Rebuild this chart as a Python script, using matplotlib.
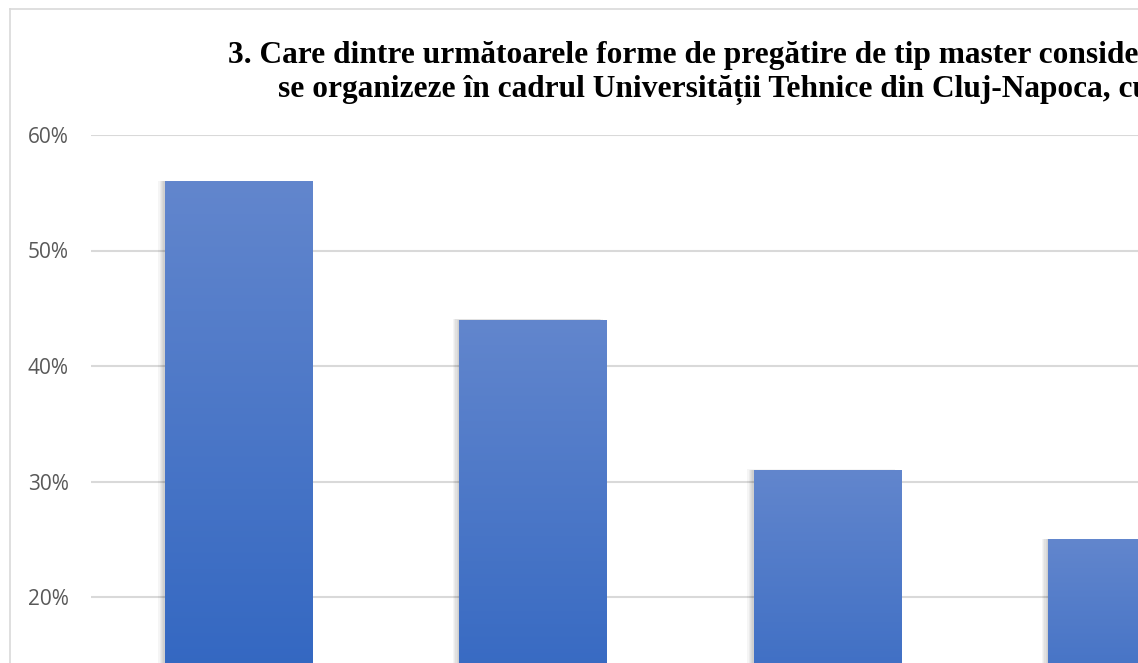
import numpy as np
import matplotlib
matplotlib.use("Agg")
import matplotlib.pyplot as plt
import matplotlib.transforms as mtransforms
from matplotlib.colors import LinearSegmentedColormap
from matplotlib.lines import Line2D
from matplotlib.ticker import PercentFormatter

# data (percent of respondents)
categories = ["Varianta 1", "Varianta 2", "Varianta 3", "Varianta 4"]
values = [0.56, 0.44, 0.31, 0.25]
yticks = [0.0, 0.1, 0.2, 0.3, 0.4, 0.5, 0.6]
title_lines = [
    "3. Care dintre următoarele forme de pregătire de tip master considerați că ar fi util să",
    "se organizeze în cadrul Universității Tehnice din Cluj-Napoca, cu durata de studii?",
]

W, H = 1138, 663
fig = plt.figure(figsize=(W / 100, H / 100), dpi=100)

# plot area is larger than the visible picture (the reference is a crop)
left, right = 91, 91 + 4 * 294.5
top, bottom = 135, 828
ax = fig.add_axes([left / W, 1 - bottom / H, (right - left) / W, (bottom - top) / H])

ax.set_xlim(-0.5, len(categories) - 0.5)
ax.set_ylim(0, 0.6)
ax.set_yticks(yticks)
ax.yaxis.set_major_formatter(PercentFormatter(1.0, decimals=0))
ax.tick_params(axis="y", length=0, pad=16, labelsize=15, labelcolor="#595959")
# category labels sit below the cropped area of the reference
ax.set_xticks(range(len(categories)))
ax.tick_params(axis="x", length=0, labelbottom=False)
for lab in ax.get_yticklabels():
    lab.set_fontfamily("Open Sans")
for s in ax.spines.values():
    s.set_visible(False)
ax.grid(axis="y", color="#d9d9d9", linewidth=1.5)
ax.set_axisbelow(True)

x = np.arange(len(categories))
bar_w = 0.5

# soft shadow to the left of each bar
for k in range(1, 6):
    off = mtransforms.offset_copy(ax.transData, fig=fig, x=-k * 0.9, y=k * 0.08, units="points")
    ax.bar(x, values, width=bar_w, color="#000000", alpha=0.04, transform=off,
           linewidth=0, zorder=2)

bars = ax.bar(x, values, width=bar_w, color="#4a77c8", linewidth=0, zorder=3)

# vertical gradient inside each bar
cmap = LinearSegmentedColormap.from_list("bar", ["#255ebe", "#6286cd"])
grad = np.linspace(0, 1, 256).reshape(-1, 1)
for b in bars:
    x0, y0 = b.get_x(), b.get_y()
    im = ax.imshow(grad, cmap=cmap, origin="lower", aspect="auto",
                   extent=[x0, x0 + b.get_width(), y0, y0 + b.get_height()], zorder=4)
    im.set_clip_path(b)
ax.set_xlim(-0.5, len(categories) - 0.5)
ax.set_ylim(0, 0.6)

# title, left part visible only
fig.text(228 / W, 1 - 63 / H, title_lines[0], ha="left", va="baseline",
         fontsize=22.6, fontweight="bold", family="Liberation Serif", color="#000000")
fig.text(278 / W, 1 - 97 / H, title_lines[1], ha="left", va="baseline",
         fontsize=22.6, fontweight="bold", family="Liberation Serif", color="#000000")

# chart border
fig.add_artist(Line2D([10 / W, 10 / W], [0, 1 - 8.5 / H], transform=fig.transFigure,
                      color="#d9d9d9", linewidth=1.2))
fig.add_artist(Line2D([10 / W, 1], [1 - 8.5 / H, 1 - 8.5 / H], transform=fig.transFigure,
                      color="#d9d9d9", linewidth=1.2))

fig.savefig("out.png", dpi=100, facecolor="white")
